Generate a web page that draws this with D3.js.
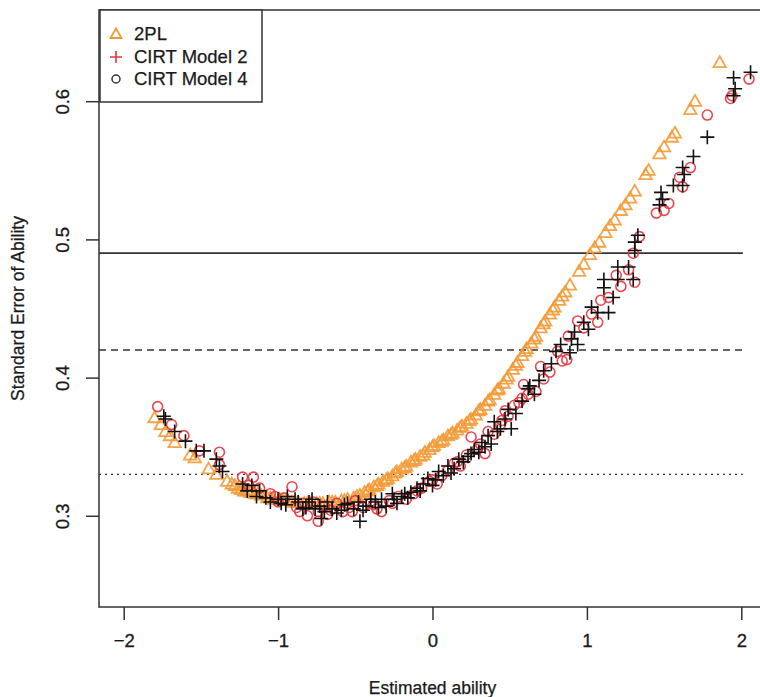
<!DOCTYPE html>
<html>
<head>
<meta charset="utf-8">
<script src="https://cdn.jsdelivr.net/npm/d3@7"></script>
<style>
html,body{margin:0;padding:0;background:#fff;}
svg{display:block;font-family:"Liberation Sans",Arial,Helvetica,sans-serif;}
</style>
</head>
<body>
<svg id="chart" width="760" height="697"></svg>
<script>
// ---- data ----
const xTicks = [-2, -1, 0, 1, 2];
const yTicks = [0.3, 0.4, 0.5, 0.6];
const refLines = [
  {y: 0.49, style: "solid"},
  {y: 0.42, style: "dashed"},
  {y: 0.33, style: "dotted"}
];
const legendLabels = ["2PL", "CIRT Model 2", "CIRT Model 4"];

// 2PL (orange triangles)
const pl2X = [-1.80,-1.76,-1.73,-1.70,-1.67,-1.57,-1.54,-1.45,-1.40,-1.33,-1.30,-1.26,-1.22,-1.18,-1.15,-1.11,-1.07,-1.03,-0.99,-0.95,-0.91,-0.87,-0.83,-0.79,-0.75,-0.71,-0.67,-0.63,-0.59,-0.55,-0.51,-0.47,-0.44,-0.41,-0.38,-0.35,-0.32,-0.29,-0.26,-0.23,-0.20,-0.17,-0.14,-0.11,-0.08,-0.05,-0.02,0.01,0.04,0.07,0.10,0.13,0.16,0.19,0.22,0.25,0.28,0.31,0.34,0.37,0.40,0.43,0.46,0.49,0.52,0.55,0.58,0.61,0.64,0.67,0.70,0.73,0.76,0.79,0.82,0.86,0.89,0.95,0.98,1.02,1.05,1.08,1.12,1.15,1.18,1.22,1.25,1.28,1.31,1.38,1.40,1.47,1.50,1.55,1.57,1.67,1.70,1.86,
  -1.28,-1.24,-1.20,-1.13,-1.05,-0.97,-0.89,-0.81,-0.73,-0.65,-0.57,-0.49,-0.42,-0.36,-0.30,-0.24,-0.18,-0.12,-0.06,0.00,0.06,0.12,0.18,0.24,0.30,0.36,0.42,0.48,0.54,0.60,0.66,0.72,0.78,0.84];
const pl2Y = [0.371,0.366,0.361,0.358,0.353,0.344,0.342,0.334,0.330,0.325,0.323,0.320,0.318,0.317,0.316,0.315,0.313,0.312,0.312,0.311,0.310,0.310,0.309,0.309,0.309,0.309,0.310,0.310,0.311,0.312,0.313,0.315,0.317,0.319,0.321,0.323,0.325,0.327,0.329,0.332,0.334,0.336,0.339,0.341,0.343,0.346,0.348,0.351,0.353,0.355,0.358,0.360,0.362,0.365,0.367,0.370,0.373,0.377,0.380,0.384,0.388,0.392,0.396,0.401,0.406,0.411,0.416,0.421,0.425,0.430,0.436,0.441,0.446,0.451,0.456,0.462,0.467,0.477,0.482,0.489,0.494,0.498,0.505,0.510,0.514,0.521,0.525,0.530,0.535,0.547,0.550,0.562,0.567,0.574,0.577,0.594,0.600,0.628,
  0.322,0.319,0.318,0.316,0.313,0.311,0.310,0.309,0.309,0.310,0.311,0.314,0.318,0.322,0.326,0.331,0.335,0.340,0.344,0.350,0.354,0.359,0.364,0.369,0.376,0.383,0.391,0.399,0.409,0.419,0.428,0.439,0.449,0.459];

// red circles
const circX = [-1.78,-1.69,-1.61,-1.51,-1.38,-1.38,-1.23,-1.16,-1.12,-1.05,-1.00,-0.96,-0.91,-0.88,-0.84,-0.81,-0.77,-0.74,-0.74,-0.70,-0.66,-0.62,-0.58,-0.54,-0.50,-0.45,-0.40,-0.36,-0.33,-0.28,-0.22,-0.17,-0.12,-0.07,-0.02,0.03,0.06,0.10,0.14,0.18,0.22,0.25,0.29,0.34,0.36,0.40,0.44,0.47,0.49,0.53,0.56,0.59,0.62,0.67,0.70,0.72,0.76,0.81,0.84,0.87,0.88,0.94,0.98,1.03,1.07,1.09,1.14,1.19,1.22,1.27,1.30,1.31,1.34,1.45,1.50,1.53,1.60,1.62,1.67,1.78,1.93,1.94,2.05,
  -1.19,-1.02,-0.86,-0.68,-0.52,-0.38,-0.26,-0.10,0.00,0.16,0.31,0.45,0.58];
const circY = [0.379,0.366,0.358,0.347,0.346,0.337,0.328,0.328,0.320,0.316,0.310,0.313,0.321,0.306,0.309,0.300,0.310,0.303,0.296,0.307,0.304,0.309,0.303,0.306,0.311,0.306,0.309,0.305,0.303,0.311,0.314,0.312,0.316,0.320,0.325,0.323,0.329,0.333,0.338,0.336,0.344,0.357,0.348,0.345,0.361,0.359,0.366,0.376,0.372,0.380,0.382,0.395,0.388,0.390,0.408,0.399,0.404,0.419,0.412,0.413,0.430,0.441,0.436,0.446,0.440,0.456,0.458,0.474,0.466,0.478,0.490,0.469,0.502,0.519,0.521,0.526,0.545,0.538,0.552,0.590,0.602,0.604,0.616,
  0.322,0.314,0.303,0.301,0.303,0.308,0.309,0.318,0.326,0.339,0.352,0.369,0.385];

// black pluses
const plusX = [-1.74,-1.73,-1.67,-1.60,-1.53,-1.48,-1.40,-1.38,-1.36,-1.23,-1.17,-1.12,-1.14,-1.05,-1.00,-0.98,-0.94,-0.89,-0.87,-0.84,-0.80,-0.78,-0.76,-0.73,-0.72,-0.68,-0.65,-0.62,-0.59,-0.55,-0.51,-0.48,-0.47,-0.43,-0.40,-0.37,-0.33,-0.30,-0.26,-0.23,-0.20,-0.18,-0.14,-0.10,-0.06,-0.03,0.00,0.04,0.07,0.10,0.14,0.17,0.20,0.23,0.27,0.30,0.32,0.36,0.38,0.40,0.44,0.47,0.49,0.51,0.54,0.58,0.62,0.63,0.66,0.69,0.72,0.77,0.80,0.83,0.89,0.90,0.92,0.94,0.98,1.01,1.03,1.07,1.11,1.11,1.14,1.17,1.20,1.20,1.27,1.30,1.31,1.31,1.33,1.47,1.48,1.49,1.56,1.62,1.62,1.63,1.69,1.78,1.95,1.96,1.95,2.06,
  -1.20,-1.08,-0.95,-0.82,-0.70,-0.57,-0.45,-0.35,-0.25,-0.16,-0.08,0.02,0.12,0.25,0.34,0.42];
const plusY = [0.372,0.370,0.361,0.354,0.347,0.347,0.341,0.336,0.332,0.323,0.322,0.318,0.314,0.310,0.312,0.309,0.314,0.312,0.310,0.305,0.310,0.312,0.305,0.307,0.298,0.310,0.305,0.302,0.304,0.309,0.305,0.310,0.296,0.307,0.312,0.310,0.312,0.307,0.316,0.309,0.314,0.316,0.317,0.320,0.323,0.327,0.322,0.332,0.329,0.336,0.334,0.341,0.339,0.343,0.348,0.346,0.353,0.358,0.352,0.368,0.363,0.370,0.377,0.363,0.374,0.383,0.392,0.394,0.388,0.398,0.405,0.410,0.419,0.424,0.418,0.428,0.433,0.424,0.440,0.435,0.451,0.447,0.465,0.471,0.447,0.458,0.471,0.480,0.480,0.471,0.492,0.498,0.503,0.525,0.534,0.529,0.539,0.539,0.552,0.547,0.560,0.574,0.604,0.609,0.617,0.621,
  0.318,0.313,0.308,0.306,0.303,0.308,0.304,0.306,0.312,0.313,0.318,0.326,0.331,0.345,0.350,0.361];

// ---- drawing ----
const svg = d3.select("#chart");
const L = 99, R = 766, T = 10, B = 607;
const x = d3.scaleLinear().domain([-2.16, 2.16]).range([L, R]);
const y = d3.scaleLinear().domain([0.234, 0.666]).range([B, T]);

const ORANGE = "#f39a36", RED = "#e8343c", BLACK = "#111";
const FONT = 18.5;
const TXT = "#1a1a1a";

// reference lines
const dashMap = {solid: null, dashed: "7,5", dotted: "2,4"};
svg.append("g").selectAll("line").data(refLines).join("line")
  .attr("x1", L).attr("x2", x(2.01))
  .attr("y1", d => y(d.y)).attr("y2", d => y(d.y))
  .attr("stroke", "#333").attr("stroke-width", d => d.style === "solid" ? 1.8 : 1.4)
  .attr("stroke-dasharray", d => dashMap[d.style]);

// points
const tri = "M0,-6.2L6.2,4.6L-6.2,4.6Z";
const pl2 = pl2X.map((v, i) => ({x: v, y: pl2Y[i]}));
const circ = circX.map((v, i) => ({x: v, y: circY[i]}));
const plus = plusX.map((v, i) => ({x: v, y: plusY[i]}));

svg.append("g").selectAll("path").data(pl2).join("path")
  .attr("d", tri)
  .attr("transform", d => `translate(${x(d.x)},${y(d.y)})`)
  .attr("fill", "none").attr("stroke", ORANGE).attr("stroke-width", 1.8).attr("stroke-opacity", 0.9);

svg.append("g").selectAll("circle").data(circ).join("circle")
  .attr("cx", d => x(d.x)).attr("cy", d => y(d.y)).attr("r", 5)
  .attr("fill", "none").attr("stroke", RED).attr("stroke-width", 1.6).attr("stroke-opacity", 0.9);

const plusPath = "M-7,0H7M0,-7V7";
svg.append("g").selectAll("path").data(plus).join("path")
  .attr("d", plusPath)
  .attr("transform", d => `translate(${x(d.x)},${y(d.y)})`)
  .attr("fill", "none").attr("stroke", BLACK).attr("stroke-width", 1.6);

// box
svg.append("rect").attr("x", L).attr("y", T).attr("width", R - L).attr("height", B - T)
  .attr("fill", "none").attr("stroke", "#333").attr("stroke-width", 1.5);

// axes
const xAxis = svg.append("g").attr("transform", `translate(0,${B})`)
  .call(d3.axisBottom(x).tickValues(xTicks).tickSize(13).tickPadding(14)
    .tickFormat(d => d < 0 ? "\u2212" + Math.abs(d) : String(d)));
xAxis.select(".domain").remove();
xAxis.selectAll("line").attr("stroke", "#333").attr("stroke-width", 1.5);
xAxis.selectAll("text").attr("font-size", FONT).attr("fill", TXT)
  .attr("stroke", TXT).attr("stroke-width", 0.3)
  .attr("font-family", "Liberation Sans, Arial, sans-serif");

const yAxis = svg.append("g").attr("transform", `translate(${L},0)`)
  .call(d3.axisLeft(y).tickValues(yTicks).tickSize(13).tickFormat(d3.format(".1f")));
yAxis.select(".domain").remove();
yAxis.selectAll("line").attr("stroke", "#333").attr("stroke-width", 1.5);
yAxis.selectAll("text").remove();
yAxis.selectAll(".tick").append("text")
  .attr("transform", "translate(-36,0) rotate(-90)")
  .attr("text-anchor", "middle").attr("dy", "0.35em")
  .attr("font-size", FONT).attr("fill", TXT)
  .attr("stroke", TXT).attr("stroke-width", 0.3)
  .attr("font-family", "Liberation Sans, Arial, sans-serif")
  .text(d => d3.format(".1f")(d));

// axis titles
svg.append("text").attr("x", x(0)).attr("y", 694).attr("text-anchor", "middle")
  .attr("font-size", 17.5).attr("fill", TXT).attr("stroke", TXT).attr("stroke-width", 0.25)
  .text("Estimated ability");
svg.append("text").attr("transform", `translate(24,${(T + B) / 2}) rotate(-90)`)
  .attr("text-anchor", "middle").attr("font-size", 17.5).attr("fill", TXT)
  .attr("stroke", TXT).attr("stroke-width", 0.25)
  .text("Standard Error of Ability");

// legend
const lg = svg.append("g");
lg.append("rect").attr("x", 100).attr("y", 10).attr("width", 162).attr("height", 92)
  .attr("fill", "#fff").attr("stroke", "#333").attr("stroke-width", 1.5);
const legY = [34, 57, 79];
lg.append("path").attr("d", "M0,-5.5L5.5,4L-5.5,4Z").attr("transform", `translate(116,${legY[0]})`)
  .attr("fill", "none").attr("stroke", ORANGE).attr("stroke-width", 1.8);
lg.append("path").attr("d", "M-6,0H6M0,-6V6").attr("transform", `translate(116,${legY[1]})`)
  .attr("fill", "none").attr("stroke", RED).attr("stroke-width", 1.6);
lg.append("circle").attr("cx", 116).attr("cy", legY[2]).attr("r", 4)
  .attr("fill", "none").attr("stroke", "#333").attr("stroke-width", 1.5);
lg.selectAll("text").data(legendLabels).join("text")
  .attr("x", 134).attr("y", (d, i) => legY[i]).attr("dy", "0.35em")
  .attr("font-size", 18.5).attr("fill", TXT).attr("stroke", TXT).attr("stroke-width", 0.25)
  .text(d => d);
</script>
</body>
</html>
